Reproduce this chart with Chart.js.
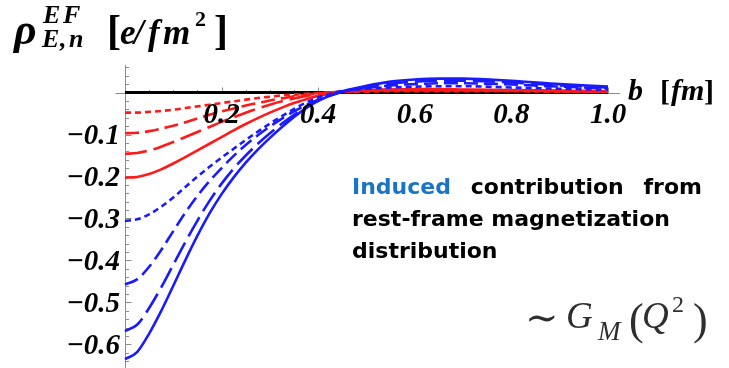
<!DOCTYPE html>
<html>
<head>
<meta charset="utf-8">
<script src="https://cdn.jsdelivr.net/npm/chart.js@4.4.1/dist/chart.umd.min.js"></script>
<style>
  html, body { margin: 0; padding: 0; background: #ffffff; }
  #wrap { width: 729px; height: 368px; position: relative; }
</style>
</head>
<body>
<div id="wrap"><canvas id="c" width="729" height="368"></canvas></div>
<script>
// Impact parameter b [fm]
const bValues = [0, 0.025, 0.05, 0.075, 0.1, 0.125, 0.15, 0.175, 0.2, 0.225, 0.25, 0.275, 0.3, 0.325, 0.35, 0.375, 0.4, 0.425, 0.45,
                 0.5, 0.55, 0.6, 0.65, 0.7, 0.8, 0.9, 1.0];

// Induced densities rho_{E,n}^{EF}(b) [e/fm^2]
const redShort  = [-0.048, -0.048, -0.046, -0.044, -0.041, -0.037, -0.033, -0.029, -0.025, -0.021, -0.017, -0.013, -0.010, -0.007, -0.005, -0.003, -0.001, 0.000, 0.001,
                   0.002, 0.003, 0.003, 0.003, 0.003, 0.003, 0.002, 0.002];
const redMedium = [-0.097, -0.096, -0.092, -0.086, -0.079, -0.071, -0.062, -0.053, -0.045, -0.038, -0.031, -0.025, -0.019, -0.014, -0.009, -0.005, -0.002, 0.000, 0.002,
                   0.004, 0.005, 0.005, 0.005, 0.005, 0.004, 0.003, 0.002];
const redLong   = [-0.146, -0.144, -0.138, -0.129, -0.118, -0.106, -0.094, -0.082, -0.070, -0.059, -0.048, -0.038, -0.029, -0.021, -0.014, -0.008, -0.003, 0.000, 0.002,
                   0.005, 0.006, 0.006, 0.006, 0.006, 0.005, 0.004, 0.003];
const redSolid  = [-0.203, -0.201, -0.194, -0.183, -0.169, -0.154, -0.138, -0.122, -0.106, -0.090, -0.075, -0.061, -0.048, -0.036, -0.025, -0.016, -0.008, -0.002, 0.002,
                   0.006, 0.007, 0.008, 0.008, 0.007, 0.006, 0.004, 0.003];
const blueShort = [-0.306, -0.302, -0.290, -0.272, -0.250, -0.225, -0.200, -0.177, -0.155, -0.134, -0.113, -0.093, -0.074, -0.056, -0.039, -0.024, -0.012, -0.003, 0.004,
                   0.009, 0.012, 0.014, 0.015, 0.015, 0.012, 0.009, 0.007];
const blueMedium = [-0.457, -0.445, -0.415, -0.375, -0.330, -0.286, -0.246, -0.211, -0.180, -0.151, -0.125, -0.102, -0.081, -0.062, -0.045, -0.030, -0.017, -0.007, 0.002,
                   0.011, 0.017, 0.020, 0.022, 0.022, 0.019, 0.014, 0.010];
const blueLong  = [-0.568, -0.553, -0.513, -0.464, -0.410, -0.356, -0.305, -0.258, -0.217, -0.181, -0.150, -0.122, -0.097, -0.074, -0.053, -0.034, -0.019, -0.007, 0.002,
                   0.013, 0.021, 0.026, 0.028, 0.028, 0.024, 0.017, 0.012];
const blueSolid = [-0.635, -0.618, -0.574, -0.520, -0.460, -0.399, -0.341, -0.288, -0.242, -0.202, -0.167, -0.136, -0.108, -0.082, -0.058, -0.037, -0.020, -0.007, 0.003,
                   0.016, 0.026, 0.031, 0.033, 0.033, 0.028, 0.020, 0.014];
const zeroLine  = [0, 0];
const zeroB     = [0, 1.0];

// Axis ticks
const xTickValues = [0.2, 0.4, 0.6, 0.8, 1.0];
const xTickLabels = ['0.2', '0.4', '0.6', '0.8', '1.0'];
const yTickValues = [-0.1, -0.2, -0.3, -0.4, -0.5, -0.6];
const yTickLabels = ['\u22120.1', '\u22120.2', '\u22120.3', '\u22120.4', '\u22120.5', '\u22120.6'];

const RED = '#ff1a1a';
const BLUE = '#1a1aff';
const SHORT = [6, 4];
const MEDIUM = [14, 6];
const LONG = [22, 7];

function pts(ys, xs = bValues) { return ys.map((v, i) => ({ x: xs[i], y: v })); }
function curve(ys, color, dash, order) {
  return {
    data: pts(ys), borderColor: color, borderWidth: 2.6, borderDash: dash,
    pointRadius: 0, fill: false, cubicInterpolationMode: 'monotone', clip: false, order: order
  };
}

const SERIF = '"Liberation Serif", "DejaVu Serif", serif';

function put(ctx, text, font, x, y) {
  ctx.font = font;
  ctx.fillText(text, x, y);
}

const axesPlugin = {
  id: 'crossAxes',
  beforeDatasetsDraw(chart) {
    const { ctx, scales: { x, y } } = chart;
    const x0 = Math.round(x.getPixelForValue(0)) + 0.5;
    const y0 = Math.round(y.getPixelForValue(0)) + 0.5;
    ctx.save();
    ctx.strokeStyle = '#8c8c8c';
    ctx.lineWidth = 1;
    ctx.beginPath();
    ctx.moveTo(x0 - 10, y0); ctx.lineTo(x.getPixelForValue(1.025), y0);
    ctx.moveTo(x0, y.top); ctx.lineTo(x0, y.bottom);
    ctx.stroke();
    // x ticks (minor every 0.05, major every 0.2), pointing up
    ctx.beginPath();
    for (let k = 1; k <= 20; k++) {
      const px = Math.round(x.getPixelForValue(k * 0.05)) + 0.5;
      const len = (k % 4 === 0) ? 6 : 3.5;
      ctx.moveTo(px, y0); ctx.lineTo(px, y0 - len);
    }
    // y ticks (minor every 0.02, major every 0.1), pointing right
    for (let k = -32; k <= 3; k++) {
      if (k === 0) continue;
      const py = Math.round(y.getPixelForValue(k * 0.02)) + 0.5;
      const len = (k % 5 === 0) ? 6 : 3.5;
      ctx.moveTo(x0, py); ctx.lineTo(x0 + len, py);
    }
    ctx.stroke();
    ctx.restore();
  },
  afterDatasetsDraw(chart) {
    const { ctx, scales: { x, y } } = chart;
    const x0 = x.getPixelForValue(0);
    const y0 = y.getPixelForValue(0);
    ctx.save();
    ctx.fillStyle = '#000';
    ctx.font = 'italic bold 29px ' + SERIF;
    ctx.textBaseline = 'alphabetic';
    ctx.textAlign = 'center';
    xTickValues.forEach((v, i) => ctx.fillText(xTickLabels[i], x.getPixelForValue(v), y0 + 30.5));
    ctx.textAlign = 'right';
    yTickValues.forEach((v, i) => ctx.fillText(yTickLabels[i], x0 - 5, y.getPixelForValue(v) + 9.5));

    // axis label b [fm]
    ctx.textAlign = 'left';
    put(ctx, 'b', 'italic bold 30px ' + SERIF, 628, 100);
    put(ctx, '[', 'bold 30px ' + SERIF, 660, 101);
    put(ctx, 'fm', 'italic bold 30px ' + SERIF, 671, 100);
    put(ctx, ']', 'bold 30px ' + SERIF, 704, 101);

    // title rho_{E,n}^{EF} [e/fm^2]
    put(ctx, '\u03C1', 'italic bold 44px ' + SERIF, 14, 44);
    const SUB = 'italic bold 26px ' + SERIF;
    put(ctx, 'E', SUB, 43, 23);
    put(ctx, 'F', SUB, 63, 23);
    put(ctx, 'E', SUB, 42, 47);
    put(ctx, ',', SUB, 60, 47);
    put(ctx, 'n', SUB, 69, 47);
    put(ctx, '[', 'bold 42px ' + SERIF, 107, 44);
    const T = 'italic bold 35px ' + SERIF;
    put(ctx, 'e', T, 120, 44);
    put(ctx, '/', T, 134, 44);
    put(ctx, 'f', T, 148, 44);
    put(ctx, 'm', T, 163, 44);
    put(ctx, '2', 'bold 22px ' + SERIF, 195, 26);
    put(ctx, ']', 'bold 42px ' + SERIF, 214, 44);

    // annotation text
    const SANS = '"DejaVu Sans", Verdana, sans-serif';
    ctx.font = 'bold 22px ' + SANS;
    const words = ['Induced', 'contribution', 'from'];
    const widths = words.map(w => ctx.measureText(w).width);
    const left = 352, right = 702;
    const gap = (right - left - widths.reduce((a, b) => a + b, 0)) / 2;
    let wx = left;
    words.forEach((w, i) => {
      ctx.fillStyle = i === 0 ? '#1a74c4' : '#000';
      ctx.fillText(w, wx, 194);
      wx += widths[i] + gap;
    });
    ctx.fillStyle = '#000';
    ctx.fillText('rest-frame magnetization', left, 226);
    ctx.fillText('distribution', left, 258);

    // ~ G_M(Q^2)
    ctx.fillStyle = '#2e2e2e';
    put(ctx, '\u223C', '40px ' + SERIF, 525, 331);
    put(ctx, 'G', 'italic 37px ' + SERIF, 566, 328);
    put(ctx, 'M', 'italic 27px ' + SERIF, 598, 340);
    put(ctx, '(', '44px ' + SERIF, 629, 334);
    put(ctx, 'Q', 'italic 37px ' + SERIF, 642, 328);
    put(ctx, '2', '24px ' + SERIF, 672, 312);
    put(ctx, ')', '44px ' + SERIF, 693, 334);
    ctx.restore();
  }
};

new Chart(document.getElementById('c'), {
  type: 'line',
  data: {
    datasets: [
      { data: pts(zeroLine, zeroB), borderColor: '#000', borderWidth: 3, pointRadius: 0, clip: false, order: 20 },
      curve(redShort, RED, SHORT, 9),
      curve(redMedium, RED, MEDIUM, 8),
      curve(redLong, RED, LONG, 7),
      curve(redSolid, RED, [], 6),
      curve(blueShort, BLUE, SHORT, 5),
      curve(blueMedium, BLUE, MEDIUM, 4),
      curve(blueLong, BLUE, LONG, 3),
      curve(blueSolid, BLUE, [], 2)
    ]
  },
  options: {
    responsive: false,
    animation: false,
    devicePixelRatio: 1,
    layout: { padding: { left: 125, right: 121, top: 65, bottom: 0 } },
    plugins: { legend: { display: false }, tooltip: { enabled: false } },
    scales: {
      x: { type: 'linear', min: 0, max: 1.0, display: false },
      y: { type: 'linear', min: -0.656, max: 0.0655, display: false }
    }
  },
  plugins: [axesPlugin]
});
</script>
</body>
</html>
